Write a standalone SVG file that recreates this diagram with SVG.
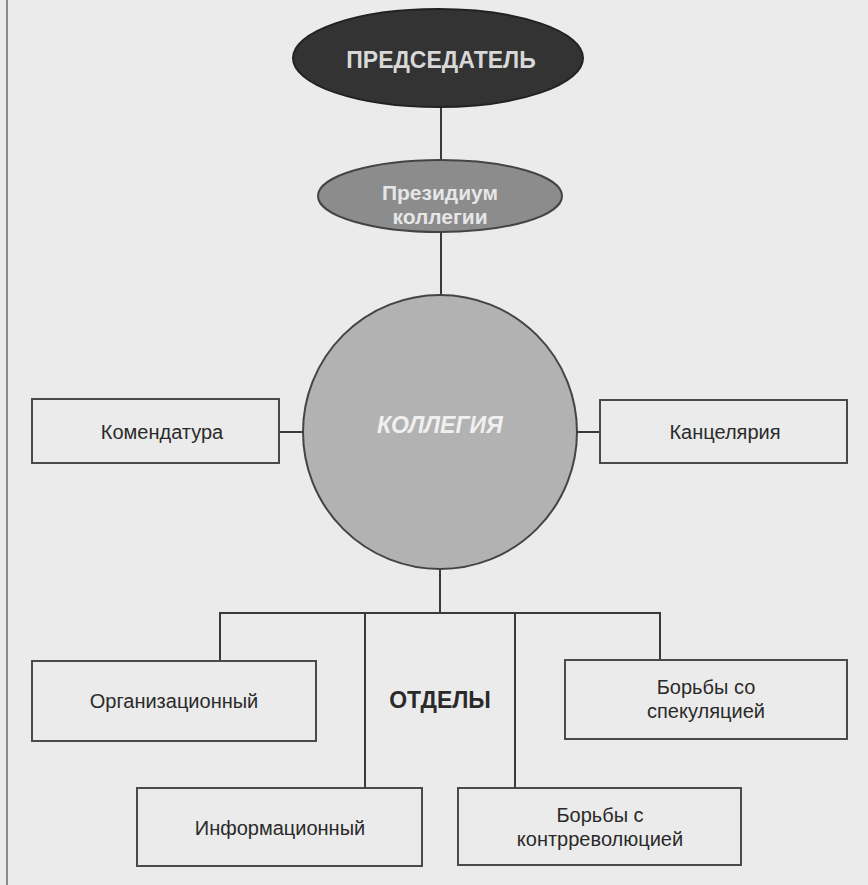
<svg xmlns="http://www.w3.org/2000/svg" width="868" height="885" viewBox="0 0 868 885">
<style>
.box{fill:#ebebeb;stroke:#4a4a4a;stroke-width:2}
.ln{stroke:#3a3a3a;stroke-width:2;fill:none}
.t{font-family:"Liberation Sans",Arial,sans-serif;font-size:20px;fill:#2a2a2a;text-anchor:middle}
.w{font-family:"Liberation Sans",Arial,sans-serif;font-weight:bold;text-anchor:middle}
</style>
<rect x="0" y="0" width="868" height="885" fill="#ebebeb"/>
<line x1="7" y1="0" x2="7" y2="885" stroke="#8a8a8a" stroke-width="2"/>
<g id="connectors">
<line class="ln" x1="441" y1="107" x2="441" y2="161"/>
<line class="ln" x1="441" y1="231" x2="441" y2="296"/>
<line class="ln" x1="279" y1="432" x2="303" y2="432"/>
<line class="ln" x1="577" y1="432" x2="600" y2="432"/>
<line class="ln" x1="440" y1="568" x2="440" y2="613"/>
<polyline class="ln" points="220,662 220,613 660,613 660,660"/>
<line class="ln" x1="365" y1="613" x2="365" y2="788"/>
<line class="ln" x1="515" y1="613" x2="515" y2="788"/>
</g>
<g id="predsedatel">
<ellipse cx="438" cy="58" rx="145" ry="49" fill="#333333" stroke="#222" stroke-width="2"/>
<text class="w" x="441" y="68" font-size="23" fill="#d8d8d8">ПРЕДСЕДАТЕЛЬ</text>
</g>
<g id="prezidium">
<ellipse cx="440" cy="196" rx="122" ry="36" fill="#8c8c8c" stroke="#444" stroke-width="2"/>
<text class="w" x="440" y="200" font-size="21" fill="#e6e6e6">Президиум</text>
<text class="w" x="440" y="224" font-size="21" fill="#e6e6e6">коллегии</text>
</g>
<g id="kollegiya">
<circle cx="440" cy="432" r="137" fill="#b2b2b2" stroke="#444" stroke-width="2"/>
<text class="w" x="440" y="433" font-size="23" font-style="italic" fill="#f0f0f0">КОЛЛЕГИЯ</text>
</g>
<g id="komendatura">
<rect class="box" x="32" y="399" width="247" height="64"/>
<text class="t" x="162" y="439">Комендатура</text>
</g>
<g id="kantselyariya">
<rect class="box" x="600" y="400" width="247" height="63"/>
<text class="t" x="725" y="439">Канцелярия</text>
</g>
<g id="otdely">
<text class="w" x="440" y="708" font-size="23" fill="#2a2a2a">ОТДЕЛЫ</text>
</g>
<g id="organizatsionny">
<rect class="box" x="32" y="661" width="284" height="80"/>
<text class="t" x="174" y="708">Организационный</text>
</g>
<g id="spekulyatsiya">
<rect class="box" x="565" y="660" width="282" height="79"/>
<text class="t" x="706" y="694">Борьбы со</text>
<text class="t" x="706" y="718">спекуляцией</text>
</g>
<g id="informatsionny">
<rect class="box" x="137" y="788" width="285" height="78"/>
<text class="t" x="280" y="835">Информационный</text>
</g>
<g id="kontrrevolyutsiya">
<rect class="box" x="458" y="788" width="283" height="77"/>
<text class="t" x="600" y="822">Борьбы с</text>
<text class="t" x="600" y="846">контрреволюцией</text>
</g>
</svg>
